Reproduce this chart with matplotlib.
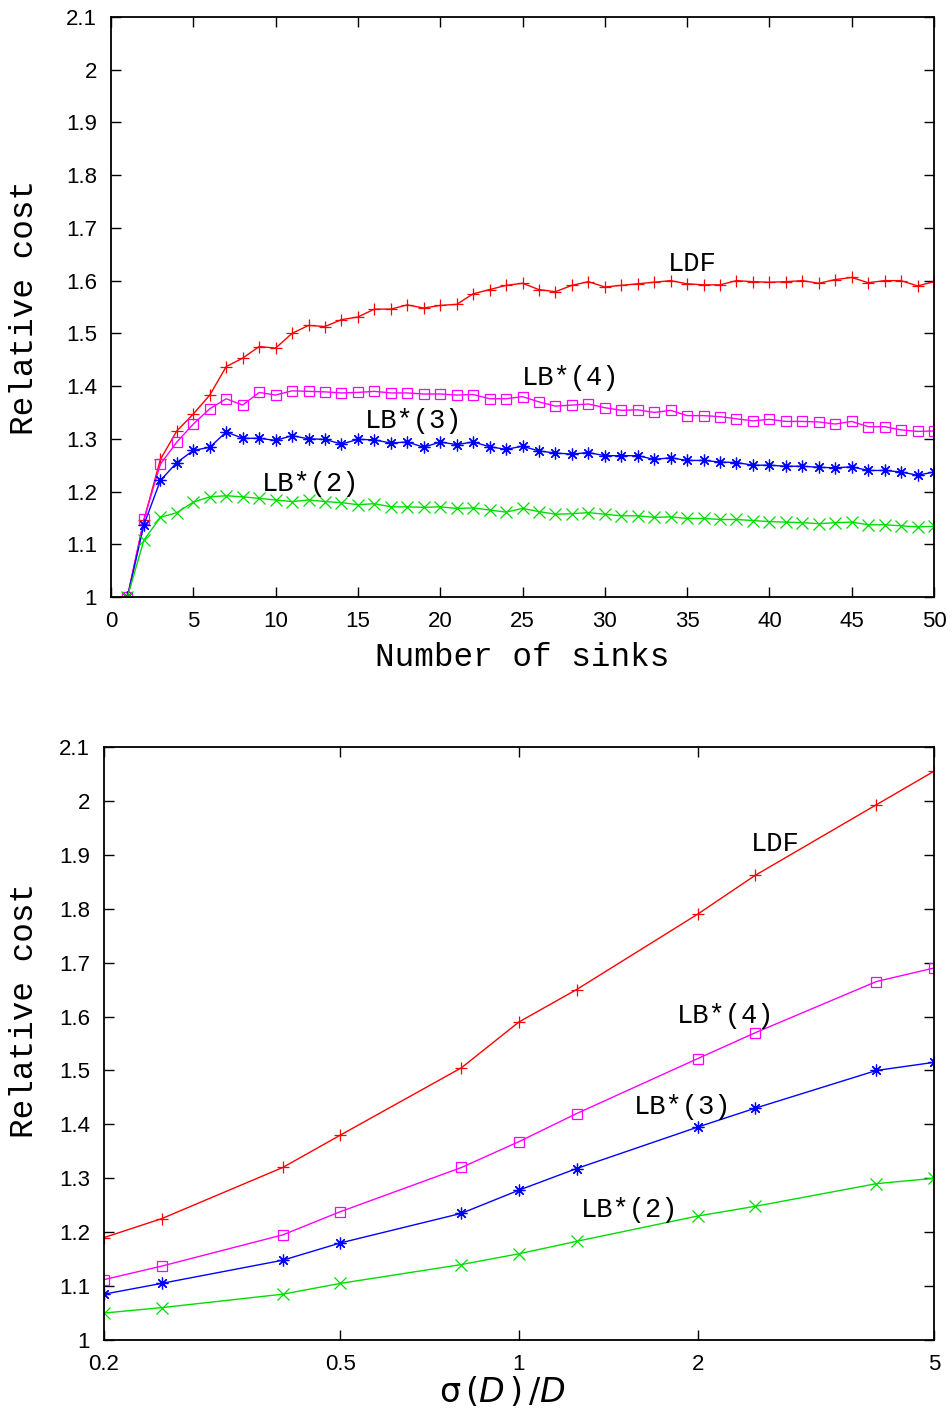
"""
Relative cost of LDF and LB*(k) vs number of sinks and vs sigma(D)/D.
"""

import numpy as np
import matplotlib.pyplot as plt
from matplotlib.ticker import FixedLocator, FuncFormatter, NullLocator

# --- top panel: number of sinks ---
sinks = list(range(1, 51))

ldf_sinks = [1.000, 1.146, 1.261, 1.315, 1.347, 1.383, 1.437, 1.453, 1.475, 1.472,
             1.500, 1.515, 1.513, 1.526, 1.531, 1.546, 1.546, 1.554, 1.548, 1.553,
             1.555, 1.575, 1.583, 1.591, 1.595, 1.583, 1.579, 1.591, 1.598, 1.588,
             1.591, 1.594, 1.597, 1.600, 1.594, 1.592, 1.592, 1.600, 1.598, 1.597,
             1.598, 1.600, 1.595, 1.602, 1.606, 1.596, 1.600, 1.600, 1.590, 1.598]

lb4_sinks = [1.000, 1.147, 1.252, 1.294, 1.328, 1.357, 1.376, 1.364, 1.388, 1.383,
             1.391, 1.390, 1.389, 1.387, 1.388, 1.390, 1.387, 1.387, 1.385, 1.385,
             1.383, 1.384, 1.376, 1.376, 1.380, 1.370, 1.362, 1.364, 1.366, 1.359,
             1.354, 1.355, 1.350, 1.354, 1.344, 1.344, 1.342, 1.338, 1.334, 1.337,
             1.333, 1.333, 1.332, 1.328, 1.333, 1.323, 1.323, 1.317, 1.314, 1.315]

lb3_sinks = [1.000, 1.137, 1.221, 1.255, 1.278, 1.284, 1.313, 1.301, 1.301, 1.297,
             1.306, 1.300, 1.299, 1.290, 1.299, 1.298, 1.292, 1.294, 1.284, 1.294,
             1.289, 1.294, 1.285, 1.280, 1.286, 1.277, 1.273, 1.271, 1.274, 1.268,
             1.268, 1.268, 1.261, 1.264, 1.259, 1.259, 1.256, 1.255, 1.250, 1.250,
             1.248, 1.248, 1.246, 1.245, 1.247, 1.240, 1.240, 1.237, 1.231, 1.237]

lb2_sinks = [1.000, 1.108, 1.151, 1.160, 1.180, 1.190, 1.192, 1.190, 1.187, 1.184,
             1.181, 1.184, 1.181, 1.179, 1.175, 1.177, 1.171, 1.171, 1.170, 1.171,
             1.168, 1.169, 1.165, 1.161, 1.168, 1.162, 1.157, 1.158, 1.160, 1.157,
             1.154, 1.154, 1.151, 1.152, 1.149, 1.149, 1.147, 1.147, 1.145, 1.143,
             1.142, 1.141, 1.139, 1.141, 1.142, 1.137, 1.137, 1.135, 1.133, 1.134]

# --- bottom panel: sigma(D)/D ---
sigma_ratio = [0.2, 0.25, 0.4, 0.5, 0.8, 1.0, 1.25, 2.0, 2.5, 4.0, 5.0]
ldf_sigma = [1.190, 1.225, 1.320, 1.380, 1.505, 1.590, 1.650, 1.790, 1.862, 1.993, 2.055]
lb4_sigma = [1.112, 1.137, 1.195, 1.238, 1.320, 1.368, 1.420, 1.522, 1.570, 1.665, 1.690]
lb3_sigma = [1.085, 1.105, 1.148, 1.180, 1.235, 1.278, 1.318, 1.395, 1.430, 1.500, 1.515]
lb2_sigma = [1.050, 1.060, 1.085, 1.105, 1.140, 1.160, 1.183, 1.230, 1.248, 1.290, 1.300]

y_ticks = [1.0, 1.1, 1.2, 1.3, 1.4, 1.5, 1.6, 1.7, 1.8, 1.9, 2.0, 2.1]
sinks_ticks = [0, 5, 10, 15, 20, 25, 30, 35, 40, 45, 50]
sigma_ticks = [0.2, 0.5, 1, 2, 5]

series_style = [
    ('LDF', '#ff0000', '+'),
    ('LB*(4)', '#ff00ff', 's'),
    ('LB*(3)', '#0000ff', (8, 2, 0)),
    ('LB*(2)', '#00dd00', 'x'),
]

MONO = 'Liberation Mono'

plt.rcParams['font.family'] = ['Liberation Sans', 'DejaVu Sans']
plt.rcParams['xtick.labelsize'] = 16
plt.rcParams['ytick.labelsize'] = 16
plt.rcParams['mathtext.fontset'] = 'dejavusans'

fmt = FuncFormatter(lambda v, p: '%g' % v)


def style_axes(ax):
    ax.tick_params(which='both', direction='in', length=7, width=1,
                   top=True, right=True, pad=10)
    for s in ax.spines.values():
        s.set_linewidth(1.3)
    ax.set_ylim(1.0, 2.1)
    ax.yaxis.set_major_locator(FixedLocator(y_ticks))
    ax.yaxis.set_major_formatter(fmt)
    ax.set_ylabel('Relative cost', family=MONO, fontsize=23.5, va='center')


def draw_series(ax, x, ys):
    for (name, color, marker), y in zip(series_style, ys):
        mfc = 'none' if marker == 's' else color
        ax.plot(x, y, color=color, lw=1.0, marker=marker,
                ms=7 if marker == 's' else 8.5,
                mfc=mfc, mec=color, mew=0.9)


fig = plt.figure(figsize=(9.52, 14.12), dpi=100)

# top
ax1 = fig.add_axes([111 / 952, 1 - 597 / 1412, 823 / 952, 580 / 1412])
draw_series(ax1, sinks, [ldf_sinks, lb4_sinks, lb3_sinks, lb2_sinks])
ax1.set_xlim(0, 50)
ax1.xaxis.set_major_locator(FixedLocator(sinks_ticks))
ax1.set_xlabel('Number of sinks', family=MONO, fontsize=23.5, va='center')
style_axes(ax1)
ax1.xaxis.set_label_coords((522 - 111) / 823, (597 - 657) / 580)
ax1.yaxis.set_label_coords((25 - 111) / 823, 0.5)
top_labels = [('LDF', 33.84, 1.632), ('LB*(4)', 24.97, 1.416),
              ('LB*(3)', 15.43, 1.334), ('LB*(2)', 9.17, 1.214)]
for txt, tx, ty in top_labels:
    ax1.text(tx, ty, txt, family=MONO, fontsize=19.5, ha='left', va='center')

# bottom
ax2 = fig.add_axes([104 / 952, 1 - 1340 / 1412, 830 / 952, 593 / 1412])
draw_series(ax2, sigma_ratio, [ldf_sigma, lb4_sigma, lb3_sigma, lb2_sigma])
ax2.set_xscale('log')
ax2.set_xlim(0.2, 5)
ax2.xaxis.set_major_locator(FixedLocator(sigma_ticks))
ax2.xaxis.set_minor_locator(NullLocator())
ax2.xaxis.set_major_formatter(fmt)
ax2.set_xlabel(r'$\mathrm{\sigma}\,(D\,)\,/D$', fontsize=24, va='center')
style_axes(ax2)
ax2.xaxis.set_label_coords((502 - 104) / 830, (1340 - 1392) / 593)
ax2.yaxis.set_label_coords((25 - 104) / 830, (1340 - 1010) / 593)
bottom_labels = [('LDF', 2.46, 1.92), ('LB*(4)', 1.846, 1.601),
                 ('LB*(3)', 1.562, 1.432), ('LB*(2)', 1.272, 1.241)]
for txt, tx, ty in bottom_labels:
    ax2.text(tx, ty, txt, family=MONO, fontsize=19.5, ha='left', va='center')

fig.savefig('out.png', dpi=100)
